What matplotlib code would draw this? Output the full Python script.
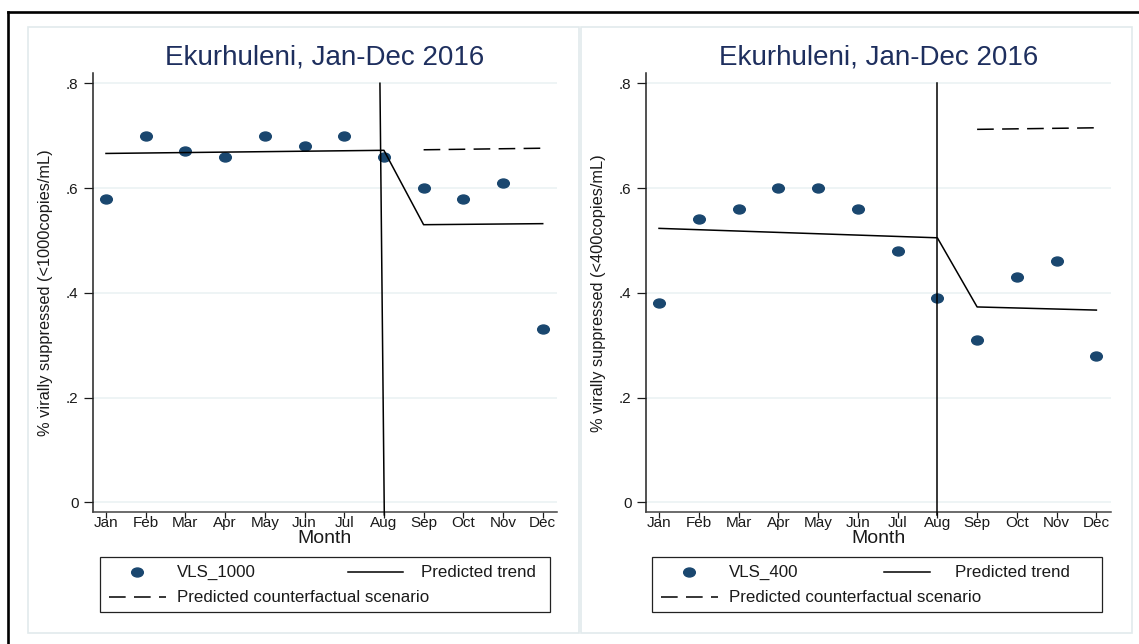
import matplotlib
matplotlib.use("Agg")
import matplotlib.pyplot as plt
from matplotlib.path import Path
from matplotlib.transforms import Affine2D
from matplotlib.lines import Line2D
from matplotlib.patches import Rectangle

plt.rcParams['font.family'] = ['Liberation Sans', 'DejaVu Sans']
plt.rcParams['lines.scale_dashes'] = False

# ---- data -------------------------------------------------------------
months = ['Jan', 'Feb', 'Mar', 'Apr', 'May', 'Jun',
          'Jul', 'Aug', 'Sep', 'Oct', 'Nov', 'Dec']
month_num = [1, 2, 3, 4, 5, 6, 7, 8, 9, 10, 11, 12]

vls_1000 = [0.58, 0.70, 0.67, 0.66, 0.70, 0.68, 0.70, 0.66, 0.60, 0.58, 0.61, 0.33]
vls_400 = [0.38, 0.54, 0.56, 0.60, 0.60, 0.56, 0.48, 0.39, 0.31, 0.43, 0.46, 0.28]

# fitted segmented regression (pre-period Jan-Aug, post-period Sep-Dec)
trend_month = [1, 8, 9, 12]
trend_1000 = [0.666, 0.672, 0.530, 0.532]
trend_400 = [0.523, 0.505, 0.373, 0.367]

# counterfactual projection of the pre-period trend
cf_month = [9, 12]
cf_1000 = [0.673, 0.676]
cf_400 = [0.712, 0.715]

# intervention marker
interv_1000_x = [7.9, 8.01]
interv_400_x = [8.0, 8.0]
interv_y = [0.8, -0.024]

yticks = [0, 0.2, 0.4, 0.6, 0.8]
ytick_labels = ['0', '.2', '.4', '.6', '.8']

title_text = 'Ekurhuleni, Jan-Dec 2016'

# ---- style ------------------------------------------------------------
W, H = 1139, 644
NAVY = '#1a476f'
TITLE_C = '#1e2f5e'
TEXT_C = '#1a1a1a'
GRID_C = '#e9f1f2'
PANEL_C = '#e2eaec'
ellipse = Path.unit_circle().transformed(Affine2D().scale(1.0, 0.77))
CF_DASH = (12, 6)


def fx(px):
    return px / W


def fy(py):
    return 1 - py / H


fig = plt.figure(figsize=(W / 100, H / 100), dpi=100)
fig.patch.set_facecolor('white')

# outer frame (extends past the right / bottom edges)
fig.add_artist(Line2D([fx(8), fx(8)], [fy(12), fy(700)], color='black', lw=1.9))
fig.add_artist(Line2D([fx(8), fx(1200)], [fy(12), fy(12)], color='black', lw=1.9))

# light panel borders
for x0, x1 in [(28, 579), (581, 1132)]:
    fig.add_artist(Rectangle((fx(x0), fy(633)), fx(x1 - x0), (633 - 27) / H,
                             fill=False, ec=PANEL_C, lw=1.2))

XLIM = (0.66, 12.37)
YLIM = (-0.019, 0.819)
ax_bottom = fy(512.3)
ax_height = (512.3 - 73.3) / H


def draw_panel(left_px, width_px, values, trend, cf, interv_x, ylabel,
               series_name, leg_left_px, trend_sample, trend_text_x):
    ax = fig.add_axes([fx(left_px), ax_bottom, fx(width_px), ax_height])
    ax.set_xlim(*XLIM)
    ax.set_ylim(*YLIM)

    ax.plot(month_num, values, ls='none', marker=ellipse, ms=8.4,
            color=NAVY, zorder=2)
    ax.plot(trend_month, trend, color='black', lw=1.1, zorder=3)
    ax.plot(cf_month, cf, color='black', lw=1.1, dashes=CF_DASH, zorder=3)
    ax.plot(interv_x, interv_y, color='black', lw=1.1, zorder=3, clip_on=False)

    ax.set_yticks(yticks)
    ax.set_yticklabels(ytick_labels)
    ax.set_xticks(month_num)
    ax.set_xticklabels(months)
    ax.grid(axis='y', color=GRID_C, lw=1.1)
    ax.set_axisbelow(True)

    for s in ('top', 'right'):
        ax.spines[s].set_visible(False)
    ax.spines['left'].set_color('#222222')
    ax.spines['left'].set_linewidth(1.1)
    ax.spines['bottom'].set_color('#444444')
    ax.spines['bottom'].set_linewidth(1.1)

    ax.tick_params(axis='y', length=6.5, width=0.9, pad=3.6, labelsize=11,
                   colors=TEXT_C)
    ax.tick_params(axis='x', length=4.3, width=0.9, pad=-1.5, labelsize=11,
                   colors=TEXT_C)

    ax.set_title(title_text, fontsize=20, color=TITLE_C, y=1.0205, pad=0,
                 va='baseline')
    ax.set_xlabel('Month', fontsize=14, va='baseline', color=TEXT_C)
    ax.xaxis.set_label_coords(0.5, (512.3 - 543) / 439)
    ax.set_ylabel(ylabel, fontsize=11.8, va='center', color=TEXT_C)
    ax.yaxis.set_label_coords(-47.0 / width_px, 0.5)

    # legend box
    lax = fig.add_axes([fx(leg_left_px), fy(612.3), fx(450), 55 / H])
    lax.set_xlim(0, 1)
    lax.set_ylim(0, 1)
    lax.axis('off')
    lax.add_patch(Rectangle((0, 0), 1, 1, transform=lax.transAxes, fill=False,
                            ec='#222222', lw=0.9, clip_on=False))
    r1, r2 = 0.727, 0.273
    lax.plot([0.083], [r1], ls='none', marker=ellipse, ms=8.4, color=NAVY)
    lax.text(0.172, r1, series_name, va='center', ha='left', fontsize=12.2,
             color=TEXT_C)
    lax.plot(trend_sample, [r1, r1], color='black', lw=1.1)
    lax.text(trend_text_x, r1, 'Predicted trend', va='center', ha='left',
             fontsize=12.2, color=TEXT_C)
    lax.plot([0.021, 0.147], [r2, r2], color='black', lw=1.1, dashes=CF_DASH)
    lax.text(0.172, r2, 'Predicted counterfactual scenario', va='center',
             ha='left', fontsize=12.2, color=TEXT_C)
    return ax


draw_panel(92.5, 464.9, vls_1000, trend_1000, cf_1000, interv_1000_x,
           '% virally suppressed (<1000copies/mL)', 'VLS_1000',
           100, [0.552, 0.674], 0.713)
draw_panel(645.5, 465.6, vls_400, trend_400, cf_400, interv_400_x,
           '% virally suppressed (<400copies/mL)', 'VLS_400',
           652, [0.516, 0.618], 0.673)

fig.savefig('out.png', dpi=100, facecolor='white')
